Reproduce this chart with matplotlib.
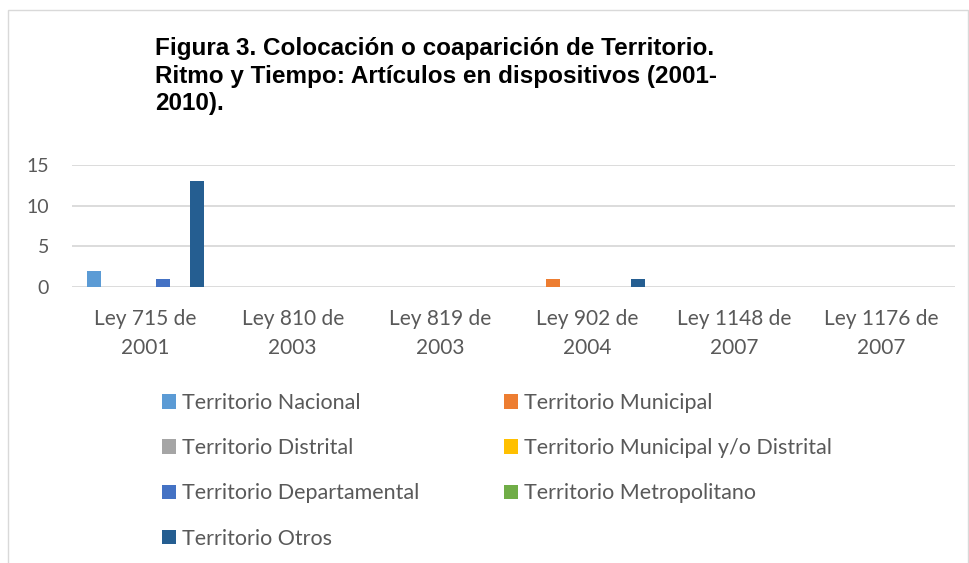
import matplotlib.pyplot as plt
from matplotlib.patches import Rectangle
import numpy as np

leyes = ["Ley 715 de\n2001", "Ley 810 de\n2003", "Ley 819 de\n2003",
         "Ley 902 de\n2004", "Ley 1148 de\n2007", "Ley 1176 de\n2007"]

series = ["Territorio Nacional", "Territorio Municipal", "Territorio Distrital",
          "Territorio Municipal y/o Distrital", "Territorio Departamental",
          "Territorio Metropolitano", "Territorio Otros"]
colors = ["#5b9bd5", "#ed7d31", "#a5a5a5", "#ffc000", "#4472c4", "#70ad47", "#255e91"]

nacional = [2, 0, 0, 0, 0, 0]
municipal = [0, 0, 0, 1, 0, 0]
distrital = [0, 0, 0, 0, 0, 0]
mun_dist = [0, 0, 0, 0, 0, 0]
departamental = [1, 0, 0, 0, 0, 0]
metropolitano = [0, 0, 0, 0, 0, 0]
otros = [13, 0, 0, 1, 0, 0]
values = [nacional, municipal, distrital, mun_dist, departamental, metropolitano, otros]

yticks = [0, 5, 10, 15]

plt.rcParams['font.family'] = ['Lato', 'DejaVu Sans']

fig = plt.figure(figsize=(9.7, 5.63), dpi=100)
# outer chart border (bottom edge falls outside the picture)
fig.patches.append(Rectangle((8/970, -0.1), 960/970, 1.1 - 10/563, transform=fig.transFigure,
                             fill=False, edgecolor="#d9d9d9", linewidth=1))

ax = fig.add_axes([72/970, 1 - 287/563, 883/970, (287 - 165)/563])
x = np.arange(len(leyes))
slot = 0.116
bars = []
for i, (name, vals) in enumerate(zip(series, values)):
    b = ax.bar(x + (i - 3) * slot, vals, width=0.095, color=colors[i], label=name, zorder=3)
    bars.append(b)

ax.set_xlim(-0.5, len(leyes) - 0.5)
ax.set_ylim(0, 15)
ax.set_yticks(yticks)
ax.grid(axis="y", color="#d9d9d9", linewidth=1.3, zorder=0)
for s in ax.spines.values():
    s.set_visible(False)
ax.tick_params(length=0, labelcolor="#595959")
ax.tick_params(axis="y", pad=16.5, labelsize=14)
ax.tick_params(axis="x", pad=16, labelsize=15)
ax.set_xticks(x)
ax.set_xticklabels(leyes, linespacing=1.55)

fig.text(155/970, 1 - 37/563, "Figura 3. Colocación o coaparición de Territorio.\n"
         "Ritmo y Tiempo: Artículos en dispositivos (2001-\n2010).",
         family=["Liberation Sans", "DejaVu Sans"], fontweight="bold",
         fontsize=17.5, va="top", ha="left", linespacing=1.26)

# legend in two columns, placed like the reference
leg_kw = dict(loc="upper left", frameon=False, fontsize=15.5, labelcolor="#595959",
              handlelength=0.65, handleheight=0.65, handletextpad=0.3,
              labelspacing=1.17, borderpad=0, borderaxespad=0)
col1 = [0, 2, 4, 6]
col2 = [1, 3, 5]
fig.legend([bars[i] for i in col1], [series[i] for i in col1],
           bbox_to_anchor=(162/970, 1 - 393/563), **leg_kw)
fig.legend([bars[i] for i in col2], [series[i] for i in col2],
           bbox_to_anchor=(504/970, 1 - 393/563), **leg_kw)

fig.savefig("out.png", dpi=100)
